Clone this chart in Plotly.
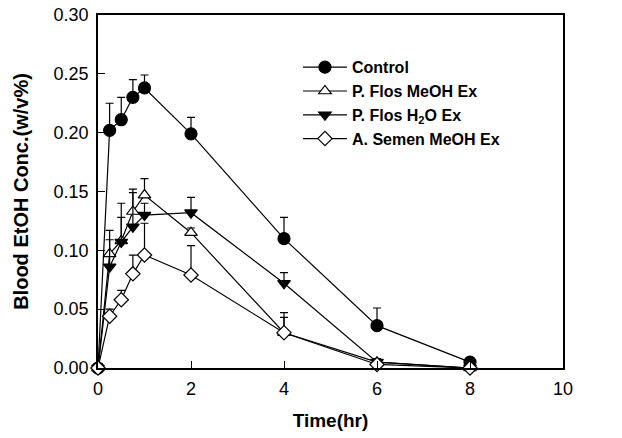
import plotly.graph_objects as go

time_hr = [0, 0.25, 0.5, 0.75, 1, 2, 4, 6, 8]

control = [0, 0.202, 0.211, 0.230, 0.238, 0.199, 0.110, 0.036, 0.005]
control_err = [0, 0.023, 0.019, 0.015, 0.011, 0.014, 0.018, 0.015, 0.0]

pflos_meoh = [0, 0.097, 0.108, 0.133, 0.147, 0.115, 0.030, 0.005, 0.0]
pflos_meoh_err = [0, 0.020, 0.020, 0.019, 0.014, 0.004, 0.017, 0.003, 0.0]

pflos_h2o = [0, 0.086, 0.107, 0.120, 0.130, 0.132, 0.072, 0.005, 0.0]
pflos_h2o_err = [0, 0.023, 0.033, 0.029, 0.010, 0.013, 0.009, 0.003, 0.0]

asemen_meoh = [0, 0.044, 0.058, 0.080, 0.096, 0.079, 0.030, 0.003, 0.0]
asemen_meoh_err = [0, 0.006, 0.008, 0.016, 0.027, 0.025, 0.013, 0.002, 0.0]

series_names = ["Control", "P. Flos MeOH Ex", "P. Flos H<sub>2</sub>O Ex", "A. Semen MeOH Ex"]
x_ticks = [0, 2, 4, 6, 8, 10]
y_ticks = [0.00, 0.05, 0.10, 0.15, 0.20, 0.25, 0.30]

series = [
    (series_names[0], control, control_err, "circle", "black"),
    (series_names[1], pflos_meoh, pflos_meoh_err, "triangle-up", "white"),
    (series_names[2], pflos_h2o, pflos_h2o_err, "triangle-down", "black"),
    (series_names[3], asemen_meoh, asemen_meoh_err, "diamond", "white"),
]

fig = go.Figure()
for name, ys, errs, sym, fill in series:
    fig.add_trace(go.Scatter(
        x=time_hr, y=ys, name=name, mode="lines+markers",
        line=dict(color="black", width=1.2),
        marker=dict(symbol=sym, size=11 if sym != "circle" else 12, color=fill,
                    line=dict(color="black", width=1.2)),
        error_y=dict(type="data", symmetric=False, array=errs,
                     arrayminus=[0] * len(errs), color="black",
                     thickness=1.2, width=4),
        cliponaxis=False,
    ))

fig.update_layout(
    width=622, height=438,
    margin=dict(l=98, r=59, t=15, b=70),
    paper_bgcolor="white", plot_bgcolor="white",
    font=dict(family="Liberation Sans, Arial", size=18, color="black"),
    showlegend=True,
    legend=dict(x=0.43, y=0.9, xanchor="left", yanchor="top",
                bgcolor="rgba(0,0,0,0)", tracegroupgap=0,
                font=dict(size=16, weight="bold"), itemwidth=44),
)
fig.update_xaxes(
    range=[0, 10], tickvals=x_ticks, ticks="inside", ticklen=7,
    tickcolor="black", showline=True, linecolor="black", linewidth=1.5,
    mirror=True, showgrid=False, zeroline=False, ticklabelstandoff=4,
    automargin=False,
    title=dict(text="Time(hr)", font=dict(size=19, weight="bold"), standoff=15),
)
fig.update_yaxes(
    range=[0, 0.30], tickvals=y_ticks, tickformat=".2f", ticks="inside",
    ticklen=7, tickcolor="black", showline=True, linecolor="black",
    linewidth=1.5, mirror=True, showgrid=False, zeroline=False, ticklabelstandoff=4,
    automargin=False,
    title=dict(text="Blood EtOH Conc.(w/v%)", font=dict(size=20, weight="bold"), standoff=20),
)

fig.write_html("out.html", config={"displayModeBar": False},
               post_script="document.body.style.margin='0';")
